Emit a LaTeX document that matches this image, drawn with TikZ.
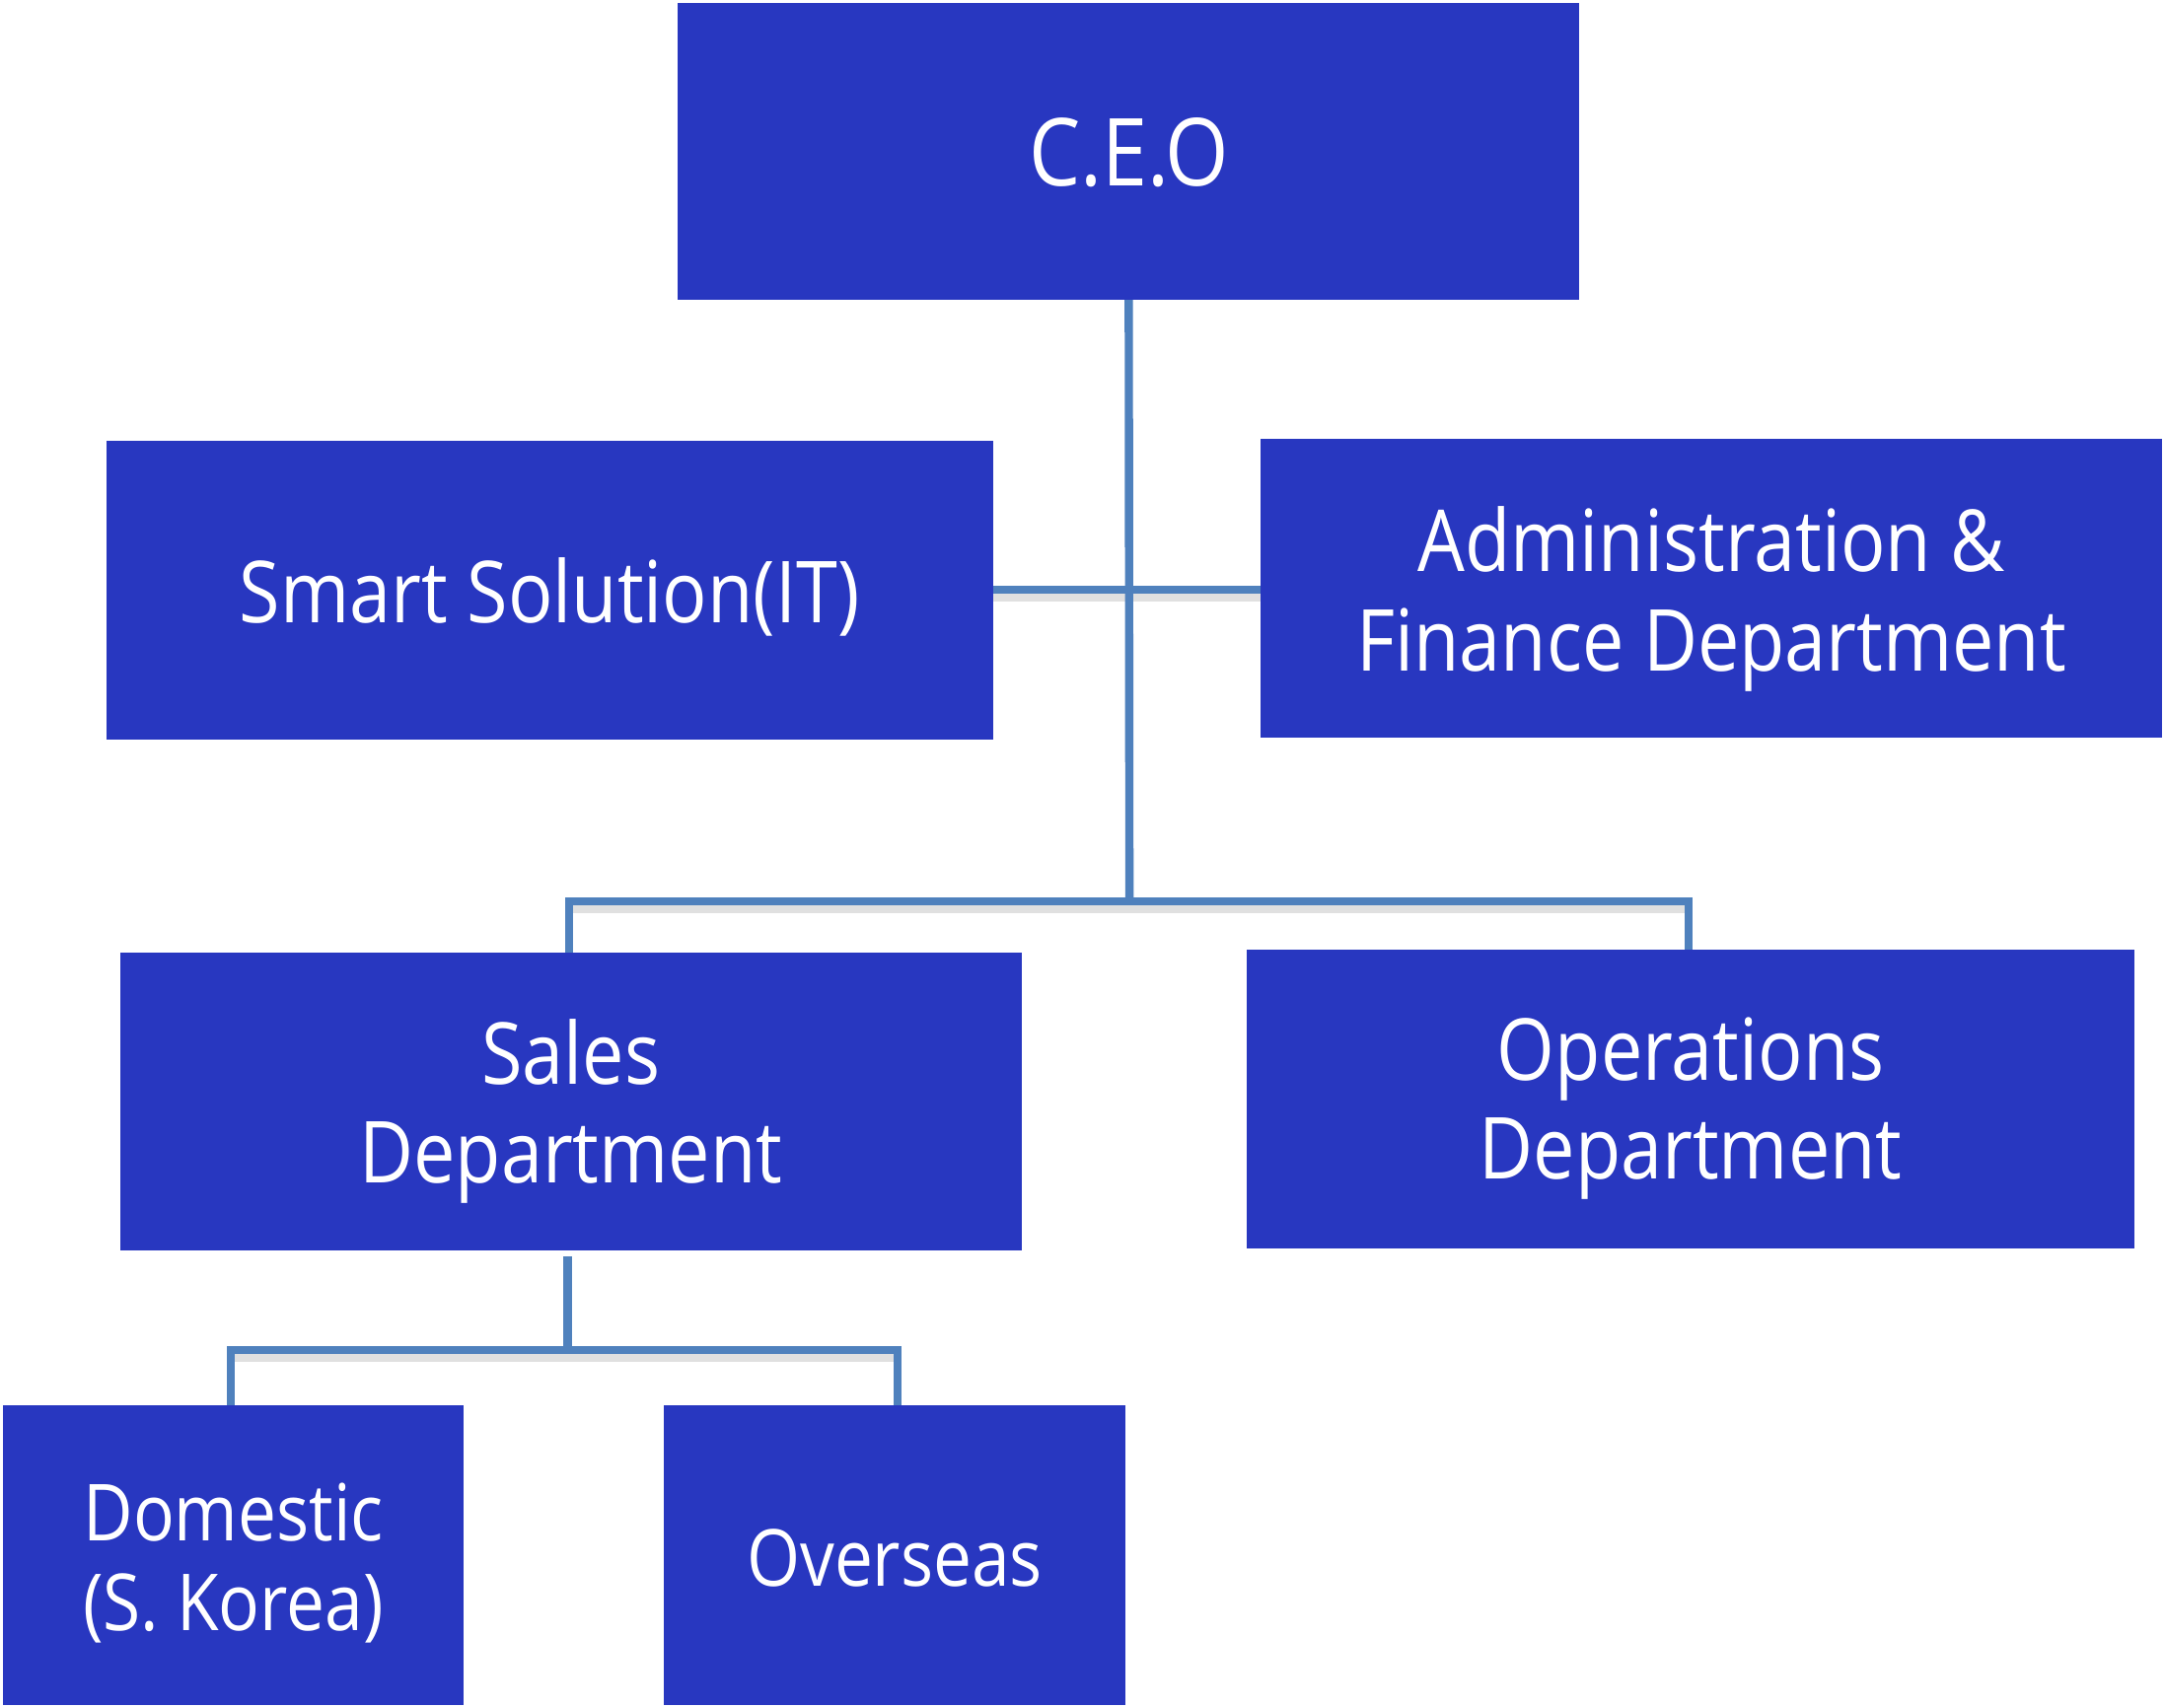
\documentclass[tikz,border=0pt]{standalone}
\usepackage{fontspec}
\setmainfont{Open Sans}[FakeStretch=0.87]
\usepackage{xcolor}
\definecolor{boxblue}{HTML}{2837C0}
\definecolor{linkblue}{HTML}{4F81BD}
% lower a line of text inside its box, keeping the box size
\newcommand{\lowr}[2][7pt]{\raisebox{-#1}[\height][\depth]{#2}}
\tikzset{
  unit/.style={fill=boxblue, text=white, align=center, inner sep=0pt,
    font=\fontsize{62}{72}\selectfont},
  small unit/.style={unit, font=\fontsize{57}{65}\selectfont},
  link/.style={draw=linkblue, line width=6pt},
  link shadow/.style={draw=black, opacity=0.12, line width=9pt, transform canvas={yshift=-4pt}},
}
\begin{document}
\begin{tikzpicture}[x=1pt, y=-1pt]
				\useasboundingbox (0,0) rectangle (1568,1237);
				% boxes
				\node [unit, minimum width=653pt, minimum height=215pt, font=\fontsize{68}{80}\selectfont] (ceo) at (817.5,109.5) {\lowr[1pt]{C.E.O}};
				\node [unit, minimum width=642pt, minimum height=217pt] (it) at (398,427.5) {\lowr[5pt]{Smart Solution(IT)}};
				\node [unit, minimum width=653pt, minimum height=216pt] (admin) at (1239.5,426) {\lowr[8pt]{Administration \&}\\\lowr[8pt]{Finance Department}};
				\node [unit, minimum width=653pt, minimum height=216pt] (sales) at (413.5,798) {\lowr{Sales}\\\lowr{Department}};
				\node [unit, minimum width=643pt, minimum height=216pt] (ops) at (1224.5,796) {\lowr{Operations}\\\lowr{Department}};
				\node [small unit, minimum width=334pt, minimum height=217pt] (dom) at (169,1126.5) {\lowr[6pt]{Domestic}\\\lowr[6pt]{(S. Korea)}};
				\node [small unit, minimum width=334pt, minimum height=217pt] (ovs) at (648,1126.5) {\lowr[2pt]{Overseas}};
				% junctions
				\coordinate (j1) at (818,653);
				\coordinate (j2) at (411,978);
				% links
				\draw [link shadow] (412,653) -- (1223,653);
				\draw [link shadow] (167,978) -- (650,978);
				\draw [link shadow] (it.east |- 0,427) -- (admin.west |- 0,427);
				\draw [link] (ceo.south) -- (j1);
				\draw [link] (it.east |- 0,427) -- (admin.west |- 0,427);
				\draw [link] (sales.north -| 412,0) -- (412,653) -- (1223,653) -- (ops.north -| 1223,0);
				\draw [link] (411,910) -- (j2);
				\draw [link] (dom.north -| 167,0) -- (167,978) -- (650,978) -- (ovs.north -| 650,0);
\end{tikzpicture}
\end{document}
